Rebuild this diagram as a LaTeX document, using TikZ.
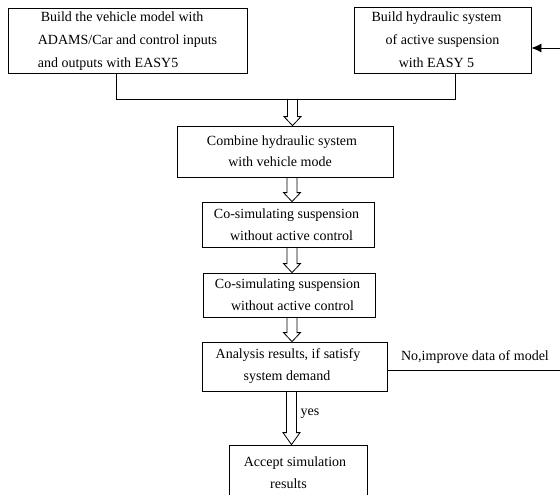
\documentclass[tikz,border=0pt]{standalone}
\usepackage{fontspec}
\setmainfont{Liberation Serif}
\usetikzlibrary{calc,arrows.meta}
% hollow (outlined) block arrow, vertical, from anchor #1 (shifted by #3) down to the level of anchor #2, head length #4
\newcommand{\hollowarr}[4]{%
  \path ([xshift=#3]#1) coordinate (hs) (hs |- #2) coordinate (he);
  \draw[conn] ($(hs)+(-5,0)$) -- ($(he)+(-5,-#4)$) -- ($(he)+(-8.5,-#4)$) -- (he)
     -- ($(he)+(8.5,-#4)$) -- ($(he)+(5,-#4)$) -- ($(hs)+(5,0)$);}
\newcommand{\rs}[1]{\hspace*{#1pt}}
\begin{document}
\begin{tikzpicture}[x=1pt,y=-1pt,
  box/.style={draw, line width=0.8pt, inner sep=0pt, align=center,
              font=\fontsize{14}{22}\selectfont},
  topbox/.style={box, font=\fontsize{14}{23}\selectfont},
  conn/.style={line width=0.8pt},
  lbl/.style={inner sep=0pt, font=\fontsize{14}{17}\selectfont}]
\useasboundingbox (0,0) rectangle (560,495);

\node[topbox, align=left, minimum width=239pt, minimum height=64.5pt] (b1) at (127.5,40.75)
  {\rs{3}Build the vehicle model with\\ADAMS/Car and control inputs\\and outputs with EASY5};
\node[topbox, minimum width=177pt, minimum height=66pt] (b2) at (442.5,40)
  {Build hydraulic system\rs{12}\\ of active suspension\rs{10}\\with EASY 5\rs{12}};
\node[box, font=\fontsize{14}{21}\selectfont, minimum width=216pt, minimum height=51pt] (b3) at (285,151.5)
  {Combine hydraulic system\rs{6}\\with vehicle mode\rs{10}};
\node[box, minimum width=172pt, minimum height=45pt] (b4) at (288,224.5)
  {Co-simulating suspension\rs{3}\\\rs{7}without active control};
\node[box, minimum width=172pt, minimum height=44pt] (b5) at (289,295)
  {Co-simulating suspension\rs{3}\\\rs{7}without active control};
\node[box, minimum width=185pt, minimum height=49pt] (b6) at (294.5,366.5)
  {Analysis results, if satisfy\rs{13}\\system demand\rs{15}};
\node[box, minimum width=138pt, minimum height=56pt] (b7) at (298,473)
  {Accept simulation\rs{6}\\results\rs{19}};

% merge of the two top branches
\draw[conn] ([xshift=-11.5pt]b1.south) -- ++(0,26) -| ([xshift=12.5pt]b2.south);
\coordinate (jn) at (292.5,99);

\hollowarr{jn}{b3.north}{0pt}{9}
\hollowarr{b3.south}{b4.north}{7pt}{9}
\hollowarr{b4.south}{b5.north}{4pt}{9}
\hollowarr{b5.south}{b6.north}{3pt}{9}
\hollowarr{b6.south}{b7.north}{-3pt}{12}

\node[lbl] (yes) at (310,414) {yes};

% feedback
\coordinate (fb1) at (560,370);
\coordinate (fb2) at (560,48);
\draw[conn] ([yshift=-3.5pt]b6.east) -- (fb1);
\node[lbl] (no) at (475,357) {No,improve data of model};
\draw[conn,-{Latex[length=10pt,width=9pt]}] (fb2) -- (b2.east |- fb2);
\end{tikzpicture}
\end{document}
